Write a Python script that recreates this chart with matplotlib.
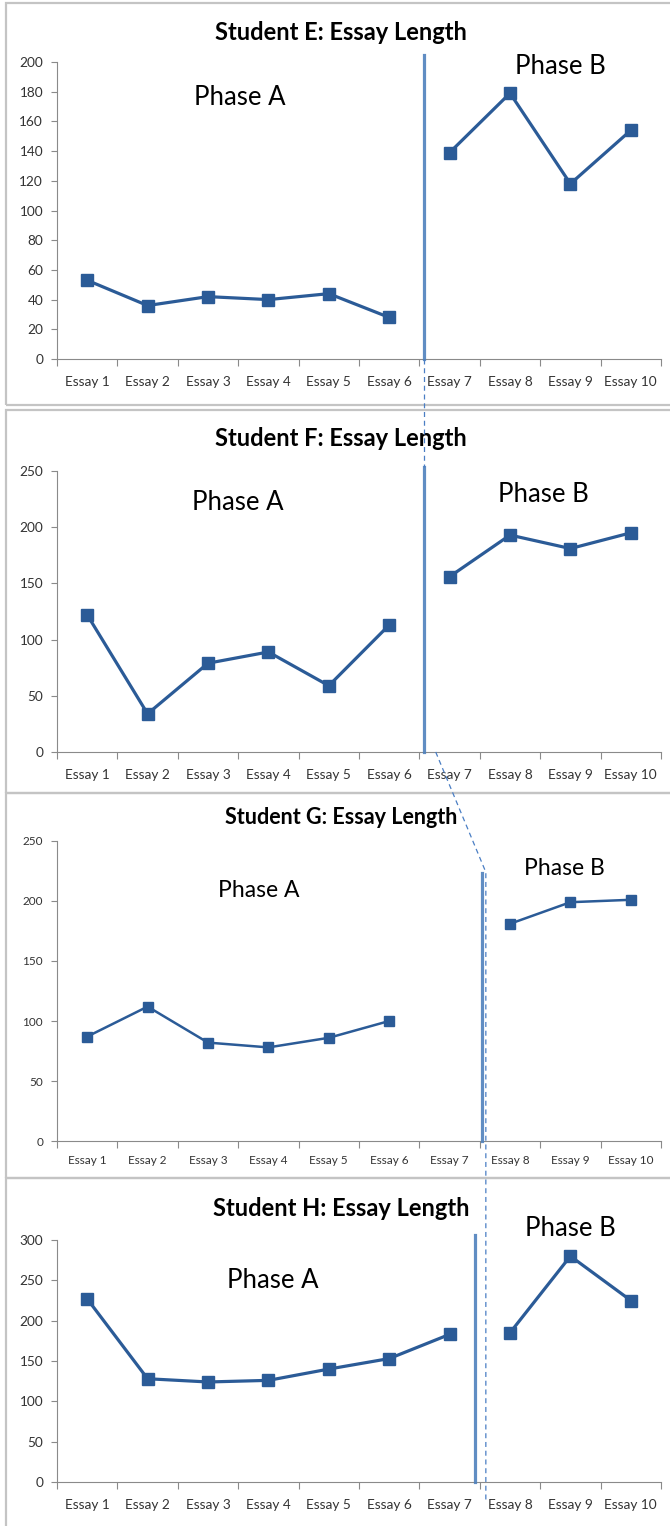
import numpy as np
import matplotlib.pyplot as plt
from matplotlib.patches import Rectangle
from matplotlib.lines import Line2D

plt.rcParams['font.family'] = ['Lato', 'DejaVu Sans']

# data (None = no essay)
essays = ['Essay %d' % i for i in range(1, 11)]
student_e = [53, 36, 42, 40, 44, 28, None, None, None, None]
student_e_b = [None, None, None, None, None, None, 139, 179, 118, 154]
student_f = [122, 34, 79, 89, 59, 113, None, None, None, None]
student_f_b = [None, None, None, None, None, None, 156, 193, 181, 195]
student_g = [87, 112, 82, 78, 86, 100, None, None, None, None]
student_g_b = [None, None, None, None, None, None, None, 181, 199, 201]
student_h = [227, 128, 124, 126, 140, 153, 183, None, None, None]
student_h_b = [None, None, None, None, None, None, None, 185, 280, 225]

titles = ['Student E: Essay Length', 'Student F: Essay Length',
          'Student G: Essay Length', 'Student H: Essay Length']
y_max = [200, 250, 250, 300]
y_step = [20, 50, 50, 50]
# phase change line: x position (category units) and top value
phase_x = [6.08, 6.08, 7.03, 6.92]
phase_top = [205, 254, 223, 306]

W, H = 670, 1526
fig = plt.figure(figsize=(W / 100, H / 100), dpi=100)


def px_axes(x0, y_top, x1, y_bot):
    return fig.add_axes([x0 / W, 1 - y_bot / H, (x1 - x0) / W, (y_bot - y_top) / H])


# panel frames
for top, bot in [(3, 405), (410, 793), (793, 1178), (1178, 1530)]:
    fig.patches.append(Rectangle((6 / W, 1 - bot / H), (W + 10) / W, (bot - top) / H,
                                 transform=fig.transFigure, fill=False,
                                 edgecolor='#c4c4c4', lw=1.6))

axes_px = [(57, 62, 661, 359), (57, 471, 661, 752), (57, 841, 661, 1141), (57, 1240, 661, 1482)]
title_y = [32, 439, 817, 1208]
phase_a = [(3.03, 176), (3.0, 222), (3.34, 209), (3.57, 250)]
phase_b = [(8.33, 197), (8.05, 229), (8.4, 227), (8.5, 314)]
series = [(student_e, student_e_b), (student_f, student_f_b),
          (student_g, student_g_b), (student_h, student_h_b)]

blue = '#2B5B97'
axs = []
for i in range(4):
    ax = px_axes(*axes_px[i])
    axs.append(ax)
    small = (i == 2)
    x = np.arange(10) + 0.5
    for s in series[i]:
        y = np.array([np.nan if v is None else v for v in s], dtype=float)
        ax.plot(x, y, color=blue, lw=1.8 if small else 2.3, marker='s',
                ms=7 if small else 8, clip_on=False, zorder=3)
    ax.set_xlim(0, 10)
    ax.set_ylim(0, y_max[i])
    ax.set_yticks(np.arange(0, y_max[i] + 1, y_step[i]))
    ax.set_xticks(np.arange(0, 11))
    ax.set_xticklabels([])
    ax.set_xticks(x, minor=True)
    ax.set_xticklabels(essays, minor=True)
    ax.tick_params(axis='x', which='major', length=5, color='#8a8a8a', width=0.8)
    ax.tick_params(axis='x', which='minor', length=0, pad=12 if not small else 10,
                   labelsize=8.5 if small else 9.8, labelcolor='#333333')
    ax.tick_params(axis='y', length=4, color='#8a8a8a', width=0.8,
                   labelsize=8.5 if small else 9.8, labelcolor='#333333', pad=6)
    for side in ['top', 'right']:
        ax.spines[side].set_visible(False)
    for side in ['left', 'bottom']:
        ax.spines[side].set_color('#8a8a8a')
        ax.spines[side].set_linewidth(0.8)
    ax.patch.set_alpha(0)

    # phase change line
    ax.plot([phase_x[i], phase_x[i]], [0, phase_top[i]], color='#4F81BD',
            lw=2.3, alpha=0.9, clip_on=False, zorder=4)
    fs = 16.5 if small else 18.5
    ax.text(*phase_a[i], 'Phase A', ha='center', va='center', fontsize=fs)
    ax.text(*phase_b[i], 'Phase B', ha='center', va='center', fontsize=fs,
            clip_on=False)
    fig.text(341 / W, 1 - title_y[i] / H, titles[i], ha='center', va='center',
             fontsize=15.5 if small else 17, fontweight='bold')


# dashed connectors between panels, points given in each panel's data units
def to_fig(ax, pt):
    return fig.transFigure.inverted().transform(ax.transData.transform(pt))


dash = dict(color='#4A7EC4', lw=0.9, linestyle=(0, (4, 3)), zorder=5)
for pts in [[(axs[0], (6.08, 0)), (axs[1], (6.08, 254))],
            [(axs[1], (6.27, 0)), (axs[2], (7.1, 224)), (axs[3], (7.1, -25))]]:
    xy = np.array([to_fig(a, p) for a, p in pts])
    fig.add_artist(Line2D(xy[:, 0], xy[:, 1], transform=fig.transFigure, **dash))

fig.savefig('out.png', dpi=100)
